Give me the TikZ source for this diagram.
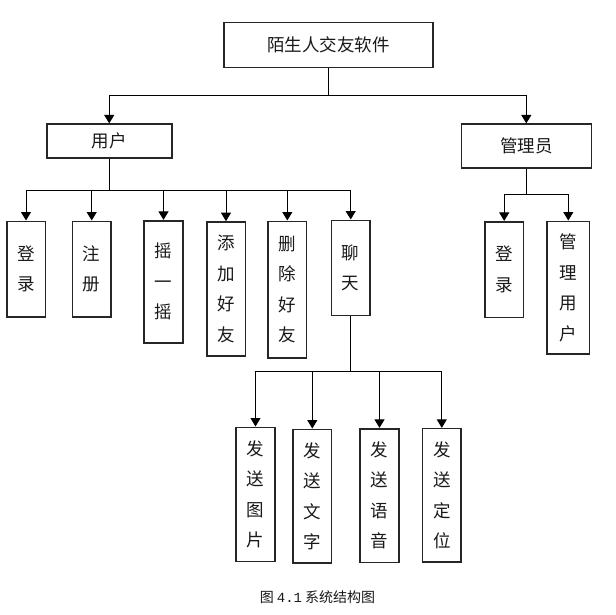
\documentclass[tikz,border=0pt]{standalone}
\usepackage{fontspec}
\newfontfamily\cjk{Noto Sans CJK SC}
\newfontfamily\monofnt{Liberation Mono}
\usetikzlibrary{arrows.meta}
\tikzset{
  box/.style={draw=black!85, line width=1.6pt, fill=white, inner sep=0pt, font=\cjk\fontsize{17.5}{30.5}\selectfont, text=black!90, align=center},
  conn/.style={line width=1pt, black},
  arr/.style={conn, -{Triangle[width=10pt,length=8.5pt]}}
}
\begin{document}
\begin{tikzpicture}[x=1pt,y=-1pt]
\useasboundingbox[fill=white] (0,0) rectangle (616,615);
% top level
\node[box, minimum width=209pt, minimum height=45pt] (top) at (328.7,45) {陌生人交友软件};
\node[box, minimum width=125pt, minimum height=34pt] (user) at (109.2,141.2) {用户};
\node[box, minimum width=130pt, minimum height=44pt] (admin) at (526.3,146.2) {管理员};
% user children
\node[box, minimum width=38.6pt, minimum height=95.4pt] (c1) at (26,269) {登\\录};
\node[box, minimum width=38.6pt, minimum height=95.4pt] (c2) at (91.7,269) {注\\册};
\node[box, minimum width=39pt, minimum height=122pt] (c3) at (163.5,281.7) {摇\\一\\摇};
\node[box, minimum width=38.6pt, minimum height=134pt] (c4) at (226,289) {添\\加\\好\\友};
\node[box, minimum width=38.6pt, minimum height=136.4pt] (c5) at (287.3,289.5) {删\\除\\好\\友};
\node[box, minimum width=38.7pt, minimum height=95pt] (c6) at (350.7,267.8) {聊\\天};
% admin children
\node[box, minimum width=38.3pt, minimum height=95.6pt] (a1) at (504.2,269.5) {登\\录};
\node[box, minimum width=42.7pt, minimum height=132.7pt] (a2) at (568.3,287.7) {管\\理\\用\\户};
% chat children
\node[box, minimum width=38.7pt, minimum height=134pt] (d1) at (255.5,494.3) {发\\送\\图\\片};
\node[box, minimum width=38.6pt, minimum height=133.7pt] (d2) at (312.3,496.2) {发\\送\\文\\字};
\node[box, minimum width=39pt, minimum height=133.6pt] (d3) at (379.5,495.5) {发\\送\\语\\音};
\node[box, minimum width=38.6pt, minimum height=133.3pt] (d4) at (441.8,495.3) {发\\送\\定\\位};
% caption
\node[font=\cjk\fontsize{14}{16}\selectfont, text=black!90, inner sep=0pt] (cap) at (317.5,597.3) {图 {\monofnt 4.1} 系统结构图};
% junctions
\coordinate (j0) at (328.7,95.7);
\coordinate (j1) at (109.2,190);
\coordinate (j2) at (526.3,194.7);
\coordinate (j3) at (350.7,371.7);
% connectors
\draw[conn] (top.south) -- (j0);
\draw[arr] (j0) -| (user.north);
\draw[arr] (j0) -| (admin.north);
\draw[conn] (user.south) -- (j1);
\foreach \n in {c1,c2,c3,c4,c5,c6} { \draw[arr] (j1) -| (\n.north); }
\draw[conn] (admin.south) -- (j2);
\foreach \n in {a1,a2} { \draw[arr] (j2) -| (\n.north); }
\draw[conn] (c6.south) -- (j3);
\foreach \n in {d1,d2,d3,d4} { \draw[arr] (j3) -| (\n.north); }
\end{tikzpicture}
\end{document}
